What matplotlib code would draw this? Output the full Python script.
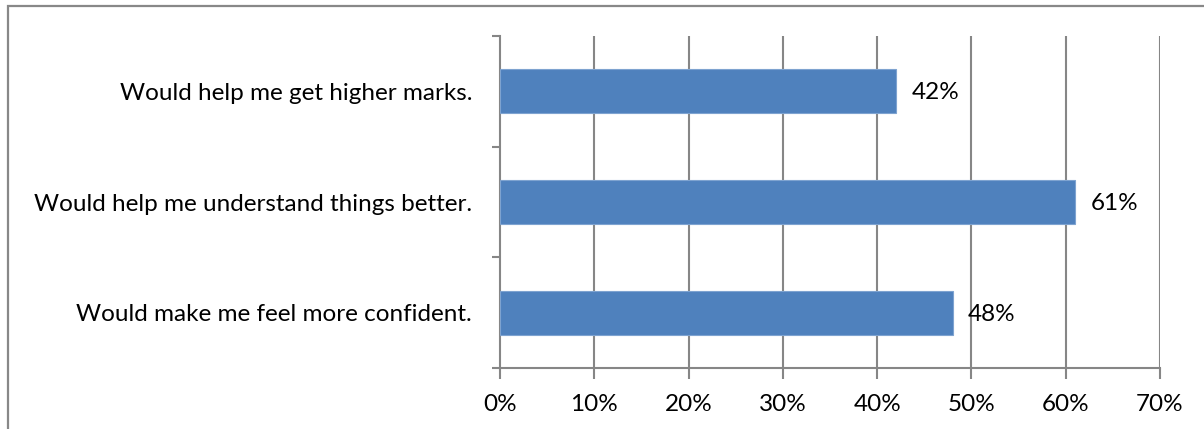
import matplotlib
matplotlib.use("Agg")
import matplotlib.pyplot as plt
from matplotlib.patches import Rectangle
from matplotlib.ticker import FuncFormatter, FixedLocator

categories = [
    "Would make me feel more confident.",
    "Would help me understand things better.",
    "Would help me get higher marks.",
]
values = [48, 61, 42]
x_ticks = [0, 10, 20, 30, 40, 50, 60, 70]

plt.rcParams["font.family"] = ["Lato", "DejaVu Sans"]

W, H = 1204, 429
FS = 17.5
fig = plt.figure(figsize=(W / 100, H / 100), dpi=100)
ax = fig.add_axes([500 / W, 1 - 368 / H, 660 / W, 332 / H])

grid_col = "#868686"
ypos = list(range(len(categories)))
ax.barh(ypos, values, height=0.4, color="#4F81BD", edgecolor="#7EA3D0",
        linewidth=0.8, zorder=3)

for y, v in zip(ypos, values):
    ax.annotate(f"{v}%", xy=(v, y), xytext=(11, -1), textcoords="offset points",
                ha="left", va="center", fontsize=FS, color="black", zorder=4)

ax.set_xlim(0, 70)
ax.set_ylim(-0.5, len(categories) - 0.5)
ax.set_xticks(x_ticks)
ax.xaxis.set_major_formatter(FuncFormatter(lambda v, _: f"{v:.0f}%"))

# category names sit between the boundary ticks
ax.set_yticks(ypos)
ax.set_yticklabels(categories, fontsize=FS)
ax.tick_params(axis="y", which="major", length=0, pad=20)
ax.yaxis.set_minor_locator(FixedLocator([-0.5, 0.5, 1.5, 2.5]))
ax.tick_params(axis="y", which="minor", length=6, width=1.5, color=grid_col)
ax.tick_params(axis="x", length=8, width=1.5, color=grid_col, labelsize=FS, pad=11)

for x in x_ticks[1:]:
    ax.axvline(x, color=grid_col, linewidth=1.5, zorder=1)

for side in ("top", "right"):
    ax.spines[side].set_visible(False)
for side in ("left", "bottom"):
    ax.spines[side].set_color(grid_col)
    ax.spines[side].set_linewidth(1.5)

fig.patches.append(Rectangle((8 / W, -0.1), 1.1, 1 - 6 / H + 0.1,
                             transform=fig.transFigure, fill=False,
                             edgecolor="#888888", linewidth=1.6))

fig.savefig("out.png", dpi=100)
